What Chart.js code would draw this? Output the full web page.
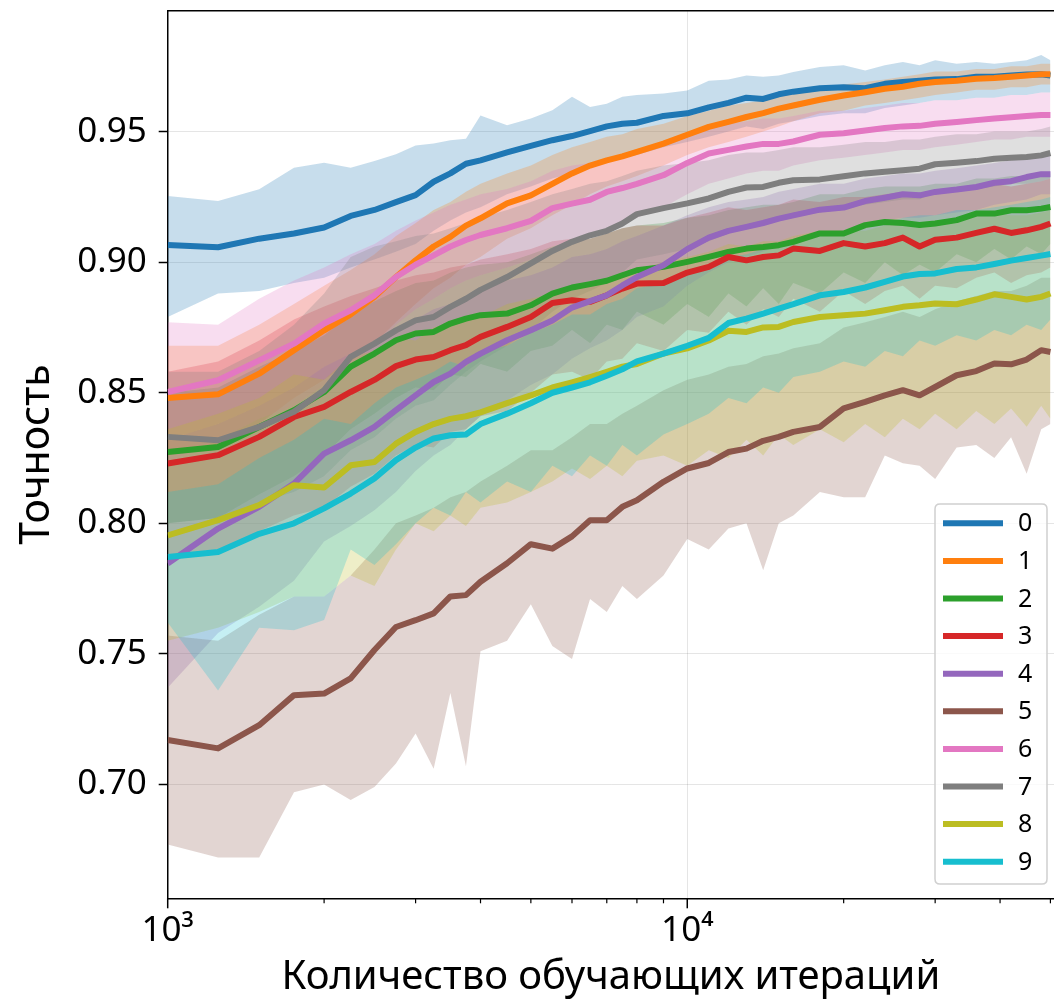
<!DOCTYPE html>
<html><head><meta charset="utf-8">
<script src="https://cdn.jsdelivr.net/npm/chart.js@4.4.1/dist/chart.umd.min.js"></script>
<style>html,body{margin:0;padding:0;background:#fff;overflow:hidden}</style>
</head><body>
<canvas id="c" width="1054" height="1002"></canvas>
<script>
// ---------- data ----------
const iterations = [1000,1250,1500,1750,2000,2250,2500,2750,3000,3250,3500,3750,4000,4500,5000,5500,6000,6500,7000,7500,8000,9000,10000,11000,12000,13000,14000,15000,16000,18000,20000,22000,24000,26000,28000,30000,33000,36000,39000,42000,45000,48000,50000];
const seriesLabels = ['0','1','2','3','4','5','6','7','8','9'];
const seriesColors = ['#1f77b4','#ff7f0e','#2ca02c','#d62728','#9467bd','#8c564b','#e377c2','#7f7f7f','#bcbd22','#17becf'];
const yTickValues = [0.70,0.75,0.80,0.85,0.90,0.95];
const xTitle = 'Количество обучающих итераций';
const yTitle = 'Точность';

const mean0 = [0.9066,0.9057,0.909,0.911,0.9133,0.9177,0.920,0.923,0.9257,0.9308,0.934,0.9377,0.939,0.942,0.9445,0.9467,0.9483,0.9502,0.952,0.953,0.9534,0.956,0.957,0.9593,0.961,0.963,0.9625,0.9643,0.9653,0.9666,0.967,0.9666,0.9683,0.969,0.9695,0.970,0.9701,0.971,0.971,0.9715,0.9719,0.972,0.9715];
const hi0 = [0.9253,0.9234,0.9279,0.9362,0.9381,0.9362,0.9387,0.9413,0.9447,0.9454,0.9467,0.9473,0.9562,0.9524,0.955,0.9582,0.9633,0.9594,0.9607,0.9633,0.964,0.9646,0.9657,0.9695,0.970,0.9715,0.971,0.9715,0.9728,0.9747,0.9754,0.9734,0.9754,0.9767,0.9754,0.9773,0.976,0.9767,0.976,0.9767,0.9773,0.9793,0.9773];
const lo0 = [0.879,0.888,0.889,0.892,0.894,0.898,0.901,0.904,0.907,0.912,0.916,0.919,0.921,0.926,0.929,0.932,0.934,0.937,0.939,0.940,0.941,0.944,0.946,0.948,0.950,0.952,0.951,0.953,0.954,0.956,0.957,0.957,0.959,0.960,0.961,0.962,0.962,0.963,0.963,0.964,0.964,0.965,0.965];

const mean1 = [0.848,0.8494,0.8573,0.8663,0.8739,0.880,0.8867,0.8943,0.9007,0.906,0.9097,0.914,0.9168,0.9225,0.9256,0.930,0.934,0.937,0.939,0.9405,0.9422,0.9454,0.9488,0.9518,0.9537,0.9556,0.9571,0.9588,0.960,0.9622,0.9638,0.9651,0.9664,0.9672,0.9683,0.969,0.9695,0.9702,0.9705,0.971,0.9715,0.972,0.972];
const hi1 = [0.868,0.868,0.876,0.884,0.891,0.897,0.903,0.910,0.915,0.920,0.923,0.927,0.930,0.934,0.937,0.941,0.944,0.946,0.948,0.949,0.951,0.953,0.956,0.958,0.960,0.961,0.962,0.964,0.965,0.966,0.968,0.969,0.970,0.971,0.972,0.973,0.973,0.974,0.974,0.975,0.975,0.976,0.976];
const lo1 = [0.826,0.829,0.838,0.848,0.855,0.862,0.869,0.877,0.884,0.890,0.894,0.899,0.902,0.909,0.913,0.918,0.922,0.926,0.929,0.931,0.933,0.937,0.941,0.944,0.946,0.948,0.950,0.952,0.954,0.957,0.958,0.960,0.961,0.962,0.963,0.964,0.965,0.966,0.966,0.967,0.967,0.968,0.968];

const mean2 = [0.8273,0.8292,0.8369,0.8433,0.8503,0.860,0.865,0.8701,0.8727,0.8733,0.8765,0.8784,0.8797,0.8803,0.8835,0.888,0.8903,0.8916,0.8929,0.895,0.8969,0.8982,0.9001,0.902,0.9039,0.9052,0.9058,0.9065,0.9078,0.911,0.911,0.9142,0.9154,0.915,0.9142,0.9148,0.9161,0.9186,0.9186,0.9199,0.9199,0.9205,0.9211];
const hi2 = [0.850,0.852,0.860,0.866,0.872,0.880,0.885,0.889,0.892,0.893,0.896,0.898,0.899,0.900,0.903,0.906,0.908,0.909,0.911,0.913,0.914,0.915,0.917,0.918,0.920,0.921,0.922,0.922,0.923,0.926,0.926,0.928,0.929,0.929,0.929,0.930,0.930,0.932,0.932,0.933,0.933,0.934,0.934];
const lo2 = [0.800,0.802,0.811,0.818,0.826,0.836,0.842,0.848,0.852,0.851,0.857,0.856,0.861,0.858,0.866,0.868,0.874,0.869,0.876,0.874,0.881,0.876,0.884,0.879,0.888,0.883,0.890,0.884,0.892,0.888,0.896,0.892,0.900,0.895,0.899,0.896,0.903,0.900,0.905,0.901,0.906,0.903,0.907];

const mean3 = [0.8229,0.8261,0.8331,0.8407,0.8446,0.8503,0.8549,0.8602,0.8627,0.8637,0.8663,0.8682,0.8714,0.8752,0.879,0.8844,0.8854,0.8848,0.8873,0.8899,0.8918,0.892,0.896,0.8982,0.902,0.9007,0.902,0.9026,0.9052,0.9043,0.9073,0.906,0.9073,0.9094,0.906,0.9086,0.9094,0.9112,0.9128,0.9112,0.9122,0.9135,0.9148];
const hi3 = [0.858,0.862,0.870,0.878,0.883,0.887,0.890,0.893,0.895,0.896,0.898,0.899,0.901,0.903,0.905,0.908,0.909,0.909,0.911,0.913,0.914,0.914,0.917,0.919,0.921,0.920,0.921,0.922,0.924,0.923,0.925,0.925,0.926,0.927,0.925,0.927,0.927,0.929,0.930,0.929,0.930,0.931,0.932];
const lo3 = [0.788,0.790,0.797,0.803,0.806,0.814,0.819,0.826,0.830,0.829,0.835,0.836,0.841,0.843,0.850,0.857,0.858,0.855,0.862,0.863,0.869,0.866,0.874,0.873,0.881,0.876,0.882,0.879,0.886,0.881,0.889,0.884,0.889,0.891,0.886,0.891,0.890,0.894,0.896,0.892,0.895,0.896,0.898];

const mean4 = [0.7846,0.798,0.8063,0.8152,0.8267,0.8318,0.8369,0.8433,0.849,0.8541,0.8573,0.8618,0.865,0.8701,0.8739,0.8777,0.8826,0.8851,0.8873,0.8911,0.8943,0.8988,0.905,0.9094,0.912,0.9135,0.915,0.9167,0.9179,0.9201,0.9209,0.9234,0.9247,0.926,0.9256,0.9269,0.9278,0.9288,0.9304,0.931,0.9326,0.9337,0.9337];
const hi4 = [0.832,0.838,0.845,0.852,0.860,0.865,0.869,0.874,0.878,0.882,0.884,0.887,0.889,0.893,0.895,0.898,0.902,0.903,0.905,0.908,0.910,0.914,0.918,0.921,0.923,0.924,0.925,0.927,0.928,0.930,0.930,0.932,0.933,0.934,0.934,0.935,0.936,0.937,0.938,0.939,0.940,0.941,0.941];
const lo4 = [0.737,0.758,0.768,0.778,0.793,0.799,0.805,0.812,0.820,0.826,0.830,0.836,0.841,0.847,0.853,0.857,0.863,0.867,0.870,0.874,0.879,0.883,0.891,0.896,0.900,0.902,0.904,0.906,0.908,0.910,0.911,0.914,0.916,0.917,0.917,0.918,0.919,0.920,0.922,0.923,0.924,0.926,0.926];

const mean5 = [0.717,0.7138,0.7227,0.7342,0.7348,0.7406,0.7515,0.7603,0.7629,0.7655,0.772,0.7725,0.7776,0.7847,0.792,0.7903,0.795,0.8012,0.8012,0.8063,0.8088,0.8159,0.821,0.8231,0.8273,0.8286,0.8316,0.8331,0.835,0.8369,0.844,0.8465,0.849,0.851,0.849,0.8522,0.8567,0.8583,0.8612,0.8609,0.8627,0.8663,0.8656];
const hi5 = [0.757,0.755,0.765,0.772,0.772,0.780,0.790,0.800,0.803,0.806,0.810,0.812,0.816,0.822,0.828,0.828,0.833,0.838,0.838,0.842,0.845,0.851,0.855,0.857,0.860,0.861,0.864,0.865,0.867,0.869,0.875,0.877,0.879,0.881,0.879,0.882,0.885,0.887,0.889,0.889,0.891,0.894,0.894];
const lo5 = [0.677,0.672,0.672,0.697,0.700,0.694,0.699,0.708,0.7195,0.706,0.735,0.707,0.751,0.755,0.769,0.753,0.748,0.771,0.766,0.776,0.771,0.780,0.794,0.790,0.798,0.800,0.782,0.800,0.803,0.812,0.810,0.810,0.826,0.823,0.822,0.817,0.829,0.830,0.825,0.833,0.819,0.836,0.838];

const mean6 = [0.8503,0.8548,0.8624,0.8688,0.8765,0.8816,0.8873,0.8943,0.899,0.9026,0.906,0.9085,0.9104,0.913,0.9158,0.9207,0.9224,0.9239,0.9269,0.9284,0.930,0.9333,0.938,0.9416,0.943,0.9443,0.9453,0.9453,0.9462,0.9488,0.9494,0.9504,0.9514,0.952,0.9522,0.953,0.9537,0.9544,0.955,0.9555,0.956,0.9564,0.9564];
const hi6 = [0.877,0.876,0.886,0.893,0.898,0.903,0.907,0.912,0.916,0.919,0.922,0.924,0.926,0.928,0.931,0.935,0.937,0.938,0.940,0.941,0.943,0.946,0.949,0.952,0.953,0.954,0.955,0.955,0.956,0.958,0.958,0.959,0.960,0.961,0.961,0.962,0.962,0.963,0.963,0.964,0.964,0.965,0.965];
const lo6 = [0.823,0.832,0.840,0.845,0.853,0.860,0.867,0.876,0.882,0.886,0.890,0.893,0.895,0.898,0.901,0.906,0.908,0.910,0.913,0.915,0.917,0.921,0.926,0.930,0.932,0.934,0.935,0.935,0.937,0.939,0.940,0.941,0.942,0.943,0.943,0.944,0.945,0.946,0.947,0.947,0.948,0.948,0.948];

const mean7 = [0.8331,0.8318,0.8369,0.8427,0.851,0.8637,0.8688,0.8739,0.8777,0.879,0.8829,0.886,0.8894,0.8943,0.8995,0.9043,0.9078,0.9103,0.912,0.9148,0.9184,0.9207,0.9225,0.9244,0.9269,0.9286,0.9288,0.9304,0.9314,0.9317,0.9329,0.934,0.9346,0.9352,0.9358,0.9375,0.9381,0.9387,0.9396,0.94,0.9403,0.9409,0.9418];
const hi7 = [0.858,0.858,0.866,0.876,0.888,0.902,0.906,0.908,0.910,0.911,0.913,0.915,0.917,0.920,0.923,0.926,0.928,0.930,0.931,0.933,0.935,0.937,0.938,0.939,0.941,0.942,0.942,0.943,0.944,0.944,0.945,0.946,0.946,0.947,0.947,0.948,0.949,0.949,0.950,0.950,0.950,0.951,0.952];
const lo7 = [0.800,0.802,0.808,0.812,0.818,0.828,0.833,0.840,0.845,0.847,0.853,0.858,0.862,0.868,0.874,0.881,0.886,0.889,0.892,0.896,0.901,0.903,0.905,0.908,0.911,0.914,0.914,0.917,0.918,0.919,0.921,0.922,0.923,0.924,0.924,0.927,0.927,0.928,0.929,0.930,0.930,0.931,0.932];

const mean8 = [0.7954,0.8012,0.807,0.8146,0.8137,0.8222,0.8235,0.8305,0.835,0.838,0.840,0.841,0.8425,0.846,0.849,0.852,0.854,0.856,0.858,0.860,0.861,0.865,0.867,0.870,0.8737,0.8733,0.875,0.8752,0.8771,0.879,0.8797,0.8803,0.8816,0.8829,0.8835,0.8842,0.8839,0.8857,0.8877,0.8867,0.8857,0.8867,0.888];
const hi8 = [0.836,0.842,0.848,0.857,0.855,0.864,0.866,0.871,0.870,0.875,0.877,0.879,0.879,0.884,0.886,0.888,0.889,0.892,0.893,0.896,0.897,0.900,0.902,0.904,0.907,0.906,0.908,0.908,0.910,0.912,0.912,0.912,0.914,0.915,0.915,0.916,0.916,0.918,0.919,0.918,0.918,0.919,0.920];
const lo8 = [0.755,0.760,0.766,0.772,0.772,0.780,0.776,0.790,0.800,0.797,0.803,0.799,0.806,0.808,0.812,0.816,0.821,0.817,0.822,0.818,0.824,0.826,0.822,0.828,0.825,0.832,0.826,0.834,0.830,0.836,0.831,0.838,0.833,0.840,0.836,0.842,0.836,0.843,0.838,0.844,0.837,0.845,0.840];

const mean9 = [0.7871,0.789,0.796,0.80,0.8057,0.8114,0.8172,0.8242,0.829,0.8325,0.8337,0.834,0.838,0.842,0.846,0.850,0.852,0.854,0.8565,0.859,0.862,0.865,0.868,0.871,0.8767,0.8784,0.8803,0.8822,0.8839,0.8873,0.8886,0.8903,0.8925,0.8945,0.8955,0.8957,0.8974,0.898,0.8993,0.9006,0.9016,0.9025,0.9031];
const hi9 = [0.812,0.815,0.825,0.832,0.840,0.838,0.846,0.852,0.855,0.858,0.862,0.860,0.866,0.868,0.873,0.876,0.880,0.880,0.884,0.886,0.890,0.892,0.895,0.898,0.902,0.903,0.905,0.906,0.908,0.911,0.912,0.913,0.915,0.917,0.918,0.918,0.920,0.920,0.921,0.922,0.923,0.924,0.925];
const lo9 = [0.762,0.736,0.760,0.759,0.763,0.790,0.784,0.792,0.800,0.806,0.803,0.812,0.808,0.816,0.812,0.822,0.818,0.826,0.822,0.830,0.826,0.834,0.838,0.842,0.848,0.846,0.852,0.850,0.856,0.858,0.862,0.860,0.866,0.864,0.870,0.868,0.872,0.870,0.874,0.872,0.876,0.874,0.878];

// ---------- build ----------
const means = [mean0,mean1,mean2,mean3,mean4,mean5,mean6,mean7,mean8,mean9];
const his = [hi0,hi1,hi2,hi3,hi4,hi5,hi6,hi7,hi8,hi9];
const los = [lo0,lo1,lo2,lo3,lo4,lo5,lo6,lo7,lo8,lo9];

const FONT = "'Noto Sans', 'DejaVu Sans', sans-serif";
function rgba(hex, a){
  const n = parseInt(hex.slice(1),16);
  return `rgba(${(n>>16)&255},${(n>>8)&255},${n&255},${a})`;
}
const pts = arr => iterations.map((x,k)=>({x:x, y:arr[k]}));

// bands are drawn first (high order), mean lines on top (low order; series 9 topmost)
const datasets = [];
for (let i=0;i<10;i++){
  datasets.push({ label:'_hi'+i, data:pts(his[i]), borderWidth:0, pointRadius:0, fill:'+1',
    backgroundColor: rgba(seriesColors[i],0.25), borderColor:'transparent', order: 1000-i, tension:0 });
  datasets.push({ label:'_lo'+i, data:pts(los[i]), borderWidth:0, pointRadius:0, fill:false,
    borderColor:'transparent', order: 1000-i, tension:0 });
  datasets.push({ label: seriesLabels[i], data:pts(means[i]), borderWidth:6, pointRadius:0, fill:false,
    borderColor: seriesColors[i], borderJoinStyle:'round', order: 100-i, tension:0, isMean:true });
}

const isPow10 = v => { const e=Math.log10(v); return Math.abs(e-Math.round(e))<1e-9; };
const isNice = v => { const e=Math.floor(Math.log10(v)+1e-9); const m=v/Math.pow(10,e); return Math.abs(m-Math.round(m))<1e-6; };
const sup = {3:'\u00B3',4:'\u2074',5:'\u2075'};

const decor = {
  id:'decor',
  afterDraw(chart){
    const {ctx, chartArea:a, scales:{x}} = chart;
    ctx.save();
    ctx.strokeStyle='#000'; ctx.lineWidth=1.5;
    ctx.beginPath(); ctx.moveTo(a.left, a.top); ctx.lineTo(a.right, a.top); ctx.stroke();
    x.ticks.forEach(t=>{
      if(!isNice(t.value)) return;
      const px = x.getPixelForValue(t.value);
      const len = isPow10(t.value) ? 10 : 5;
      ctx.lineWidth = isPow10(t.value) ? 1.5 : 1.2;
      ctx.beginPath(); ctx.moveTo(px, a.bottom); ctx.lineTo(px, a.bottom+len); ctx.stroke();
    });
    // legend (inside axes, lower right)
    const bx=935, by=504, bw=112, bh=380, r=5;
    ctx.beginPath();
    ctx.moveTo(bx+r,by); ctx.lineTo(bx+bw-r,by); ctx.quadraticCurveTo(bx+bw,by,bx+bw,by+r);
    ctx.lineTo(bx+bw,by+bh-r); ctx.quadraticCurveTo(bx+bw,by+bh,bx+bw-r,by+bh);
    ctx.lineTo(bx+r,by+bh); ctx.quadraticCurveTo(bx,by+bh,bx,by+bh-r);
    ctx.lineTo(bx,by+r); ctx.quadraticCurveTo(bx,by,bx+r,by); ctx.closePath();
    ctx.fillStyle='rgba(255,255,255,0.8)'; ctx.fill();
    ctx.strokeStyle='#d0d0d0'; ctx.lineWidth=1.5; ctx.stroke();
    const items = chart.data.datasets.filter(d=>d.isMean);
    ctx.font = `25px ${FONT}`; ctx.textBaseline='middle'; ctx.textAlign='left';
    items.forEach((d,k)=>{
      const y = 523.3 + 37.6*k;
      ctx.strokeStyle = d.borderColor; ctx.lineWidth = 6;
      ctx.beginPath(); ctx.moveTo(943,y); ctx.lineTo(1003,y); ctx.stroke();
      ctx.fillStyle='#000'; ctx.fillText(d.label, 1018, y+1);
    });
    ctx.restore();
  }
};

new Chart(document.getElementById('c'), {
  type:'line',
  data:{ datasets },
  options:{
    responsive:false, animation:false, devicePixelRatio:1,
    layout:{ padding:{ left:0, right:0, top:10.7, bottom:0 } },
    plugins:{ legend:{display:false}, tooltip:{enabled:false}, filler:{propagate:false} },
    scales:{
      x:{
        type:'logarithmic', min:1000, max:50800,
        grid:{ drawTicks:false, lineWidth:1, color: c => (c.tick && isPow10(c.tick.value)) ? 'rgba(0,0,0,0.1)' : 'rgba(0,0,0,0)' },
        border:{ display:true, color:'#000', width:1.5 },
        ticks:{ autoSkip:false, maxRotation:0, padding:12, color:'#000', font:{ family:FONT, size:35 },
          callback: v => isPow10(v) ? '10'+sup[Math.round(Math.log10(v))] : '' },
        title:{ display:true, text:xTitle, color:'#000', font:{ family:FONT, size:40 }, padding:{top:0,bottom:0} },
        afterFit: s => { s.height = 103.7; s.paddingLeft = 0; s.paddingRight = 0; }
      },
      y:{
        type:'linear', min:0.6564, max:0.9963,
        afterBuildTicks: s => { s.ticks = yTickValues.map(v=>({value:v})); },
        grid:{ color:'rgba(0,0,0,0.1)', lineWidth:1, tickColor:'#000', tickLength:9, tickWidth:1.5 },
        border:{ display:true, color:'#000', width:1.5 },
        ticks:{ padding:12, color:'#000', font:{ family:FONT, size:35 }, callback: v => Number(v).toFixed(2) },
        title:{ display:true, text:yTitle, color:'#000', font:{ family:FONT, size:41 }, padding:{top:13,bottom:0} },
        afterFit: s => { s.width = 167.7; s.paddingTop = 0; s.paddingBottom = 0; }
      }
    }
  },
  plugins:[decor]
});
</script>
</body></html>
